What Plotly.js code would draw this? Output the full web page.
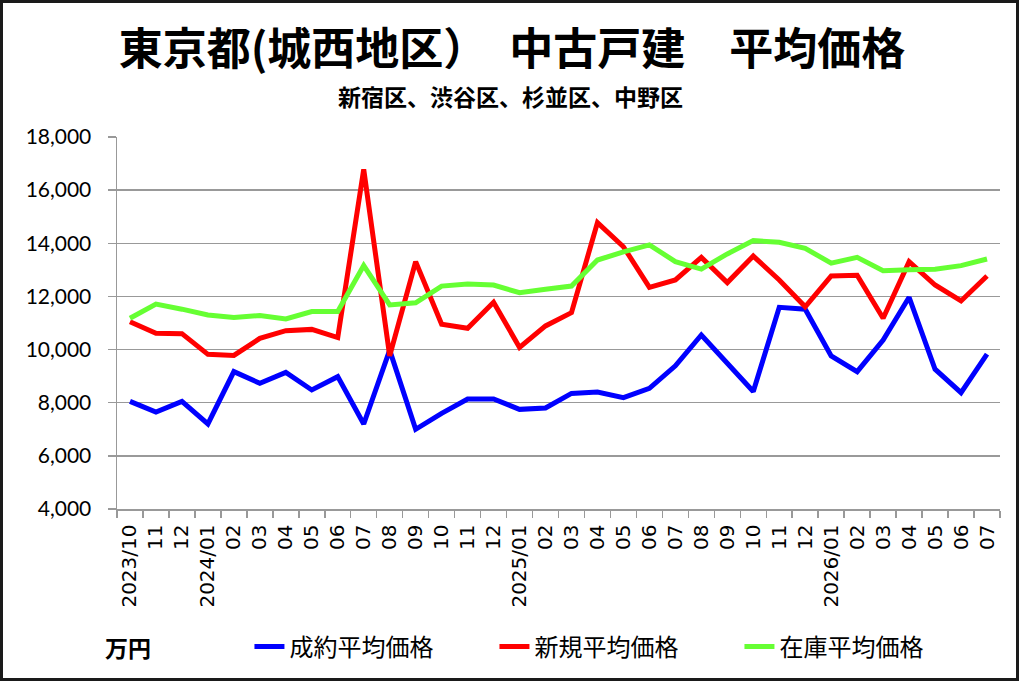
<!DOCTYPE html>
<html>
<head>
<meta charset="utf-8">
<script src="https://cdn.plot.ly/plotly-3.0.1.min.js"></script>
<style>
html,body{margin:0;padding:0;background:#fff;}
#wrap{position:relative;width:1024px;height:683px;}
#chart{width:1024px;height:683px;}
#frame{position:absolute;left:0;top:0;width:1019px;height:681px;border:3px solid #1a1a1a;box-sizing:border-box;pointer-events:none;}
</style>
</head>
<body>
<div id="wrap"><div id="chart"></div><div id="frame"></div></div>
<script>
// Months (unique category keys) and displayed tick labels
const months = ['2023/10','2023/11','2023/12','2024/01','2024/02','2024/03','2024/04','2024/05','2024/06','2024/07','2024/08','2024/09','2024/10','2024/11','2024/12','2025/01','2025/02','2025/03','2025/04','2025/05','2025/06','2025/07','2025/08','2025/09','2025/10','2025/11','2025/12','2026/01','2026/02','2026/03','2026/04','2026/05','2026/06','2026/07'];
const tickLabels = ['2023/10','11','12','2024/01','02','03','04','05','06','07','08','09','10','11','12','2025/01','02','03','04','05','06','07','08','09','10','11','12','2026/01','02','03','04','05','06','07'];

// 成約平均価格 (blue)
const seiyaku = [8050, 7650, 8050, 7200, 9170, 8730, 9140, 8480, 8980, 7200, 9980, 7000, 7600, 8140, 8140, 7750, 7800, 8350, 8400, 8190, 8540, 9390, 10550, 9480, 8420, 11590, 11520, 9760, 9170, 10360, 11970, 9260, 8380, 9830];
// 新規平均価格 (red)
const shinki = [11050, 10610, 10600, 9820, 9780, 10420, 10710, 10760, 10450, 16780, 9760, 13310, 10950, 10800, 11780, 10080, 10890, 11390, 14780, 13870, 12340, 12620, 13470, 12520, 13520, 12620, 11610, 12770, 12800, 11180, 13310, 12430, 11830, 12770];
// 在庫平均価格 (green)
const zaiko = [11180, 11710, 11520, 11300, 11210, 11280, 11150, 11430, 11430, 13160, 11680, 11760, 12390, 12470, 12430, 12140, 12270, 12390, 13370, 13680, 13940, 13310, 13030, 13600, 14100, 14040, 13810, 13250, 13470, 12970, 13000, 13020, 13160, 13410];

const seriesNames = ['成約平均価格','新規平均価格','在庫平均価格'];
const yTicks = [4000, 6000, 8000, 10000, 12000, 14000, 16000, 18000];

const cjk = '"Noto Sans CJK JP", "Noto Sans", sans-serif';

const traces = [
  {x: months, y: seiyaku, name: seriesNames[0], type:'scatter', mode:'lines', line:{color:'#0000ff', width:5}},
  {x: months, y: shinki, name: seriesNames[1], type:'scatter', mode:'lines', line:{color:'#ff0000', width:5}},
  {x: months, y: zaiko, name: seriesNames[2], type:'scatter', mode:'lines', line:{color:'#66ff33', width:5}}
];

const layout = {
  width:1024, height:683,
  margin:{l:117, r:24, t:137, b:174, autoexpand:false},
  paper_bgcolor:'#fff', plot_bgcolor:'#fff',
  showlegend:true,
  title:{
    text:'東京都(城西地区）　中古戸建　平均価格',
    font:{family:cjk, size:44, color:'#000', weight:'bold'},
    x:0.5, xanchor:'center', xref:'container',
    y:0.928, yanchor:'middle', yref:'container'
  },
  xaxis:{
    type:'category',
    categoryorder:'array', categoryarray: months,
    tickvals: months, ticktext: tickLabels,
    tickangle:-90,
    tickson:'boundaries',
    ticks:'outside', ticklen:7, tickwidth:1.5, tickcolor:'#999',
    showline:true, linecolor:'#999', linewidth:1.5,
    showgrid:false, zeroline:false, automargin:false,
    ticklabelstandoff:6,
    tickfont:{family:'DejaVu Sans', size:20, color:'#000'},
    range:[-0.5, 33.5]
  },
  yaxis:{
    range:[4000, 18000],
    tickvals: yTicks,
    tickformat:',d',
    ticks:'outside', ticklen:8, tickwidth:1.5, tickcolor:'#999',
    showline:true, linecolor:'#999', linewidth:1.5,
    showgrid:true, gridcolor:'#999', gridwidth:1.5,
    zeroline:false, automargin:false,
    ticklabelstandoff:12,
    tickfont:{family:'Lato, "Liberation Sans", sans-serif', size:21, color:'#000'}
  },
  legend:{
    orientation:'h',
    x:0.150, xanchor:'left',
    y:-0.371, yanchor:'middle',
    entrywidth:200, entrywidthmode:'pixels',
    font:{family:cjk, size:24, color:'#000'},
    bgcolor:'rgba(0,0,0,0)'
  },
  annotations:[
    {text:'新宿区、渋谷区、杉並区、中野区', xref:'paper', yref:'paper', x:0.446, y:1.11, xanchor:'center', yanchor:'middle', showarrow:false,
     font:{family:cjk, size:23, color:'#000', weight:'bold'}},
    {text:'万円', xref:'paper', yref:'paper', x:0.0125, y:-0.371, xanchor:'center', yanchor:'middle', showarrow:false,
     font:{family:cjk, size:23, color:'#000', weight:'bold'}}
  ]
};

Plotly.newPlot('chart', traces, layout, {staticPlot:true, displayModeBar:false});
</script>
</body>
</html>
